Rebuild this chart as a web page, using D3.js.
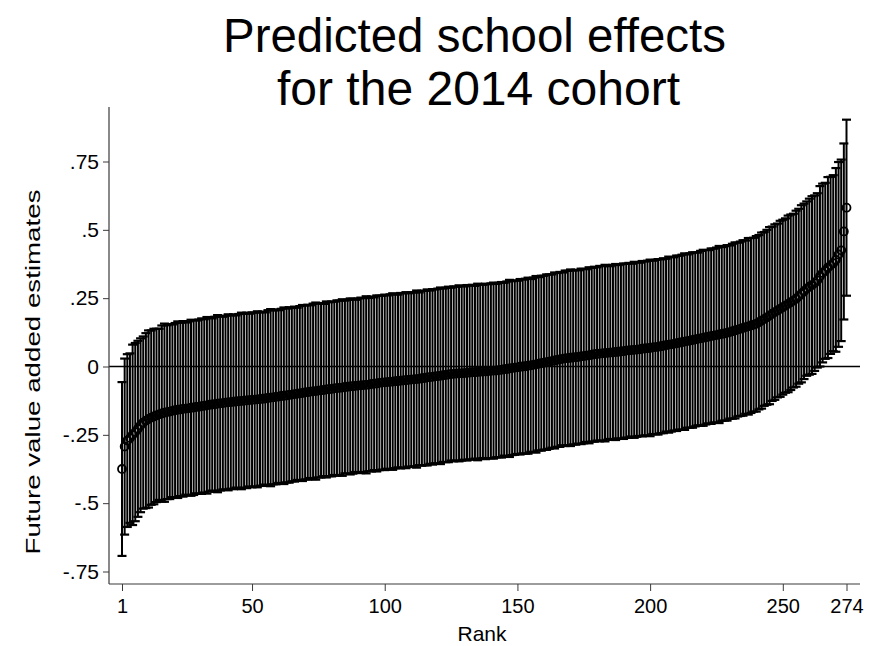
<!DOCTYPE html>
<html>
<head>
<meta charset="utf-8">
<script src="https://cdn.jsdelivr.net/npm/d3@7"></script>
<style>
  html, body { margin: 0; padding: 0; background: #fff; }
  svg { display: block; }
  text { font-family: "Liberation Sans", Arial, Helvetica, sans-serif; fill: #000; }
</style>
</head>
<body>
<svg id="chart" width="873" height="646"></svg>
<script>
// ---- Data ----
const titleLines = ["Predicted school effects", "for the 2014 cohort"];
const xTickValues = [1, 50, 100, 150, 200, 250, 274];
const yTickValues = [-0.75, -0.5, -0.25, 0, 0.25, 0.5, 0.75];
const yTickLabels = ["-.75", "-.5", "-.25", "0", ".25", ".5", ".75"];

// Point estimate of each school effect, in rank order 1..274
const estimate = [
  -0.375,-0.293,-0.271,-0.262,-0.250,-0.240,-0.228,-0.215,-0.205,-0.198,
  -0.192,-0.187,-0.183,-0.179,-0.175,
  -0.172,-0.169,-0.167,-0.165,-0.162,-0.160,
  -0.158,-0.157,-0.155,-0.154,-0.153,-0.151,-0.150,
  -0.148,-0.147,-0.145,-0.144,-0.142,-0.140,
  -0.139,-0.138,-0.136,-0.135,-0.134,-0.132,-0.131,
  -0.130,-0.129,-0.128,-0.127,-0.126,-0.125,-0.124,-0.123,-0.122,-0.121,-0.120,-0.119,-0.118,
  -0.117,-0.115,-0.114,-0.113,-0.111,-0.110,-0.108,-0.107,-0.106,-0.104,-0.103,-0.101,-0.100,
  -0.098,-0.097,-0.095,-0.094,-0.092,-0.091,-0.090,-0.088,-0.087,-0.086,-0.084,-0.083,-0.082,
  -0.080,-0.079,-0.078,-0.077,-0.075,-0.074,-0.073,-0.072,-0.071,-0.070,
  -0.069,-0.068,-0.067,-0.066,-0.064,-0.063,-0.062,-0.060,-0.059,-0.058,
  -0.057,-0.056,-0.055,-0.054,-0.053,-0.052,-0.051,-0.050,-0.049,-0.048,-0.047,-0.046,
  -0.045,-0.043,-0.042,-0.040,-0.039,-0.038,-0.036,-0.035,-0.034,-0.032,-0.031,-0.029,-0.028,
  -0.027,-0.026,-0.025,-0.025,-0.024,-0.023,-0.022,-0.021,-0.021,-0.020,-0.019,-0.018,-0.018,-0.017,-0.016,-0.015,-0.015,
  -0.013,-0.012,-0.010,-0.009,-0.007,-0.006,-0.004,-0.003,-0.001,0.000,0.001,0.003,0.004,
  0.006,0.008,0.010,0.012,0.014,0.016,0.018,0.020,0.022,0.024,0.026,0.028,
  0.030,0.031,0.032,0.033,0.034,0.035,0.037,0.038,0.040,0.041,0.043,0.045,0.046,
  0.047,0.048,0.049,0.050,0.051,0.052,0.053,0.054,0.055,0.056,0.058,0.059,
  0.060,0.061,0.062,0.063,0.065,0.066,0.067,0.068,0.070,0.071,0.072,0.074,
  0.076,0.078,0.080,0.081,0.083,0.085,0.087,0.089,0.091,0.093,0.095,0.097,0.099,0.101,0.103,0.105,0.107,
  0.109,0.111,0.113,0.115,0.117,0.119,0.121,0.123,0.126,0.129,0.132,0.135,0.138,
  0.141,0.144,0.147,0.150,0.153,0.156,
  0.162,0.168,0.174,0.180,0.186,0.193,
  0.199,0.205,0.211,0.217,
  0.223,0.229,0.235,0.241,0.248,
  0.257,0.266,0.275,0.285,
  0.292,0.298,0.305,0.315,0.330,
  0.342,0.350,0.362,0.370,0.378,
  0.390,0.410,0.425,
  0.494,
  0.581
];

// Half-width of each confidence interval, rank order 1..274
const margin = [
  0.318,0.322,0.316,0.310,0.330,0.326,0.322,0.318,0.315,0.320,
  0.324,0.319,0.321,0.317,0.313,0.322,0.326,0.318,0.320,0.316,
  0.319,0.323,0.317,0.321,0.315,0.318,0.322,0.320,0.316,0.319,
  0.321,0.317,0.323,0.318,0.315,0.320,0.324,0.319,0.316,0.318,
  0.322,0.317,0.320,0.315,0.319,0.323,0.318,0.321,0.316,0.320,
  0.318,0.322,0.317,0.319,0.315,0.321,0.324,0.318,0.320,0.316,
  0.319,0.323,0.318,0.321,0.317,0.320,0.315,0.319,0.322,0.318,
  0.320,0.316,0.321,0.324,0.318,0.319,0.315,0.322,0.318,0.320,
  0.317,0.321,0.319,0.323,0.316,0.318,0.322,0.320,0.315,0.319,
  0.321,0.318,0.324,0.317,0.320,0.316,0.322,0.319,0.318,0.321,
  0.317,0.320,0.323,0.318,0.316,0.321,0.319,0.322,0.317,0.320,
  0.318,0.324,0.316,0.320,0.319,0.322,0.317,0.321,0.318,0.320,
  0.323,0.317,0.319,0.321,0.316,0.320,0.318,0.322,0.319,0.317,
  0.321,0.318,0.320,0.316,0.323,0.319,0.317,0.321,0.318,0.320,
  0.322,0.317,0.319,0.321,0.316,0.320,0.324,0.318,0.319,0.317,
  0.321,0.318,0.320,0.322,0.316,0.319,0.323,0.317,0.320,0.318,
  0.321,0.319,0.317,0.322,0.318,0.320,0.316,0.321,0.319,0.323,
  0.318,0.320,0.317,0.321,0.319,0.316,0.322,0.318,0.320,0.317,
  0.321,0.319,0.323,0.318,0.316,0.320,0.322,0.317,0.319,0.321,
  0.318,0.320,0.316,0.322,0.319,0.317,0.321,0.318,0.320,0.323,
  0.317,0.319,0.321,0.318,0.320,0.316,0.322,0.319,0.317,0.321,
  0.318,0.320,0.323,0.317,0.319,0.321,0.318,0.316,0.320,0.322,
  0.319,0.317,0.321,0.318,0.320,0.324,0.318,0.319,0.321,0.317,
  0.320,0.322,0.318,0.319,0.321,0.317,0.323,0.320,0.318,0.321,
  0.319,0.322,0.318,0.320,0.324,0.319,0.321,0.318,0.322,0.320,
  0.319,0.323,0.321,0.318,0.322,0.320,0.324,0.321,0.319,0.322,
  0.325,0.321,0.319,0.330,0.327,0.322,0.331,0.324,0.322,0.336,
  0.338,0.332,0.322,0.322
];

const xAxisTitle = "Rank";
const yAxisTitle = "Future value added estimates";

// ---- Build records ----
const schools = estimate.map((e, i) => ({
  rank: i + 1,
  est: e,
  lo: e - margin[i],
  hi: e + margin[i]
}));

// ---- Layout ----
const svg = d3.select("#chart");
const axisColor = "#3a3a3a";

const x = d3.scaleLinear().domain([1, 274]).range([122, 846.5]);
const y = d3.scaleLinear().domain([-0.75, 0.75]).range([571.5, 161.5]);

const plotLeft = 109, plotRight = 860, plotTop = 107, plotBottom = 584;

// Title
svg.append("text")
  .attr("x", 474.5).attr("y", 52)
  .attr("text-anchor", "middle")
  .attr("font-size", 48)
  .attr("textLength", 503).attr("lengthAdjust", "spacingAndGlyphs")
  .text(titleLines[0]);
svg.append("text")
  .attr("x", 478.5).attr("y", 105)
  .attr("text-anchor", "middle")
  .attr("font-size", 48)
  .attr("textLength", 403).attr("lengthAdjust", "spacingAndGlyphs")
  .text(titleLines[1]);

// Zero reference line
svg.append("line")
  .attr("x1", plotLeft).attr("x2", plotRight)
  .attr("y1", y(0)).attr("y2", y(0))
  .attr("stroke", "#000").attr("stroke-width", 1.3);

// Error bars
const g = svg.append("g");
g.selectAll("line.bar").data(schools).enter().append("line")
  .attr("class", "bar")
  .attr("x1", d => x(d.rank)).attr("x2", d => x(d.rank))
  .attr("y1", d => y(d.hi)).attr("y2", d => y(d.lo))
  .attr("stroke", "#000").attr("stroke-width", 2);

const capW = 4.5;
g.selectAll("line.capHi").data(schools).enter().append("line")
  .attr("x1", d => x(d.rank) - capW).attr("x2", d => x(d.rank) + capW)
  .attr("y1", d => y(d.hi)).attr("y2", d => y(d.hi))
  .attr("stroke", "#000").attr("stroke-width", 2.2);
g.selectAll("line.capLo").data(schools).enter().append("line")
  .attr("x1", d => x(d.rank) - capW).attr("x2", d => x(d.rank) + capW)
  .attr("y1", d => y(d.lo)).attr("y2", d => y(d.lo))
  .attr("stroke", "#000").attr("stroke-width", 2.2);

// Point estimates (hollow circles)
g.selectAll("circle").data(schools).enter().append("circle")
  .attr("cx", d => x(d.rank)).attr("cy", d => y(d.est))
  .attr("r", 4)
  .attr("fill", "none").attr("stroke", "#000").attr("stroke-width", 1.8);

// Y axis
const yAxis = d3.axisLeft(y).tickValues(yTickValues)
  .tickFormat((d, i) => yTickLabels[i]).tickSize(6).tickSizeOuter(0).tickPadding(4);
const gy = svg.append("g").attr("transform", `translate(${plotLeft},0)`).call(yAxis);
gy.select(".domain").remove();
gy.selectAll(".tick line").attr("stroke", axisColor);
gy.selectAll(".tick text").attr("font-size", 21)
  .attr("font-family", "Liberation Sans, Arial, sans-serif").attr("fill", "#000");
svg.append("line")
  .attr("x1", plotLeft).attr("x2", plotLeft)
  .attr("y1", plotTop).attr("y2", plotBottom)
  .attr("stroke", axisColor).attr("stroke-width", 1.2);

// X axis
const xAxis = d3.axisBottom(x).tickValues(xTickValues)
  .tickFormat(d3.format("d")).tickSize(7).tickSizeOuter(0).tickPadding(8);
const gx = svg.append("g").attr("transform", `translate(0,${plotBottom})`).call(xAxis);
gx.select(".domain").remove();
gx.selectAll(".tick line").attr("stroke", axisColor);
gx.selectAll(".tick text").attr("font-size", 20)
  .attr("font-family", "Liberation Sans, Arial, sans-serif").attr("fill", "#000");
svg.append("line")
  .attr("x1", plotLeft).attr("x2", plotRight)
  .attr("y1", plotBottom).attr("y2", plotBottom)
  .attr("stroke", axisColor).attr("stroke-width", 1.2);

// Axis titles
svg.append("text")
  .attr("x", 482).attr("y", 641)
  .attr("text-anchor", "middle").attr("font-size", 21)
  .text(xAxisTitle);
svg.append("text")
  .attr("transform", "translate(40,372) rotate(-90)")
  .attr("text-anchor", "middle").attr("font-size", 20)
  .attr("textLength", 365).attr("lengthAdjust", "spacingAndGlyphs")
  .text(yAxisTitle);
</script>
</body>
</html>
